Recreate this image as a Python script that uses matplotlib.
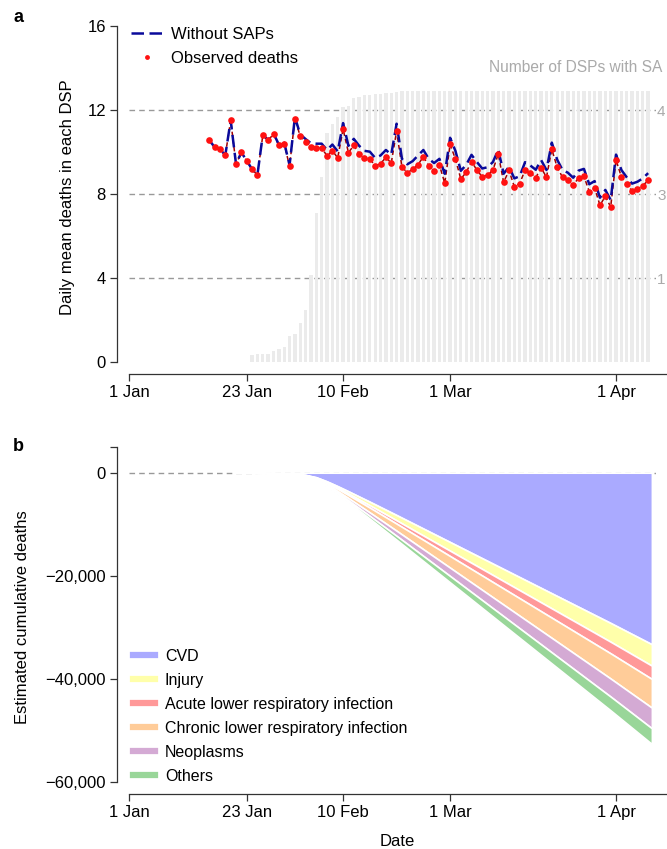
import matplotlib.pyplot as plt
import numpy as np
from matplotlib.lines import Line2D

plt.rcParams['font.family'] = ['Liberation Sans', 'DejaVu Sans']

# days counted from 1 Jan 2020 (day 0)
tick_days = [0, 22, 40, 60, 91]
tick_labels = ['1 Jan', '23 Jan', '10 Feb', '1 Mar', '1 Apr']

# panel a : daily mean deaths per DSP
days = list(range(15, 98))
observed = [10.56, 10.24, 10.13, 9.86, 11.51, 9.42, 9.99, 9.58, 9.18, 8.91,
            10.80, 10.56, 10.86, 10.32, 10.40, 9.32, 11.59, 10.75, 10.50, 10.26,
            10.21, 10.18, 9.83, 10.07, 9.72, 11.10, 9.97, 10.32, 9.91, 9.73,
            9.67, 9.35, 9.45, 9.75, 9.48, 11.00, 9.29, 9.02, 9.18, 9.40,
            9.78, 9.35, 9.10, 9.39, 8.52, 10.37, 9.66, 8.72, 9.04, 9.54,
            9.15, 8.82, 8.91, 9.15, 9.91, 8.56, 9.13, 8.35, 8.50, 9.15,
            9.02, 8.78, 9.26, 8.80, 10.13, 9.28, 8.80, 8.67, 8.42, 8.78,
            8.85, 8.12, 8.29, 7.47, 7.90, 7.39, 9.62, 8.82, 8.47, 8.15,
            8.24, 8.40, 8.66]
without_saps = [10.56, 10.24, 10.13, 9.86, 11.51, 9.42, 9.99, 9.58, 9.19, 8.93,
                10.82, 10.58, 10.89, 10.36, 10.45, 9.38, 11.66, 10.84, 10.62, 10.42,
                10.40, 10.40, 10.10, 10.36, 10.03, 11.38, 10.30, 10.63, 10.30, 10.06,
                10.02, 9.72, 9.84, 10.10, 9.88, 11.35, 9.68, 9.42, 9.57, 9.84,
                10.10, 9.68, 9.48, 9.68, 8.97, 10.68, 10.05, 9.11, 9.39, 9.87,
                9.53, 9.22, 9.28, 9.53, 10.12, 8.97, 9.30, 8.75, 8.85, 9.52,
                9.36, 9.16, 9.62, 9.15, 10.45, 9.64, 9.15, 9.02, 8.78, 9.12,
                9.20, 8.47, 8.62, 7.83, 8.20, 7.72, 9.88, 9.15, 8.80, 8.50,
                8.59, 8.75, 9.00]

# number of DSPs with SAPs (right axis, cut by the figure edge)
bar_days = list(range(23, 98))
dsp_with_sa = [13, 15, 15, 15, 21, 24, 28, 47, 50, 70, 93, 156, 266, 331, 409,
               426, 438, 455, 458, 471, 474, 476, 477, 478, 479, 480, 481, 482] + [484] * 47
right_ticks = [150, 300, 450]
right_labels = ['1', '3', '4']

# panel b : estimated cumulative deaths by cause
dates_b = [20, 23, 26, 29, 31, 33, 35, 37, 39, 41, 45, 50, 60, 70, 80, 90, 97.7]
cvd = [0, 0, -65, -146, -254, -430, -886, -1685, -2618, -3604, -5633, -8216,
       -13442, -18674, -23902, -29131, -33256]
injury = [0, 0, -8, -18, -32, -54, -111, -210, -327, -450, -703, -1025,
          -1678, -2331, -2983, -3636, -4147]
acute_lri = [0, 0, -5, -11, -20, -33, -69, -130, -203, -279, -436, -636,
             -1041, -1446, -1850, -2255, -2578]
chronic_lri = [0, 0, -11, -24, -43, -72, -148, -282, -438, -603, -943, -1376,
               -2251, -3127, -4003, -4878, -5562]
neoplasms = [0, 0, -8, -17, -30, -52, -106, -202, -314, -433, -676, -986,
             -1614, -2242, -2870, -3498, -3992]
others = [0, 0, -6, -13, -23, -39, -81, -154, -240, -330, -516, -753,
          -1232, -1711, -2190, -2669, -3043]
causes = ['CVD', 'Injury', 'Acute lower respiratory infection',
          'Chronic lower respiratory infection', 'Neoplasms', 'Others']
cause_colors = ['#aaaaff', '#ffffaa', '#ff9999', '#ffcc99', '#d4aad4', '#99d699']

W, H = 667, 849
fig = plt.figure(figsize=(W / 100, H / 100), dpi=100)

def px_axes(l, t, r, b):
    return fig.add_axes([l / W, 1 - b / H, (r - l) / W, (b - t) / H])

PXDAY = 5.352
X0 = 129
xlim = ((117 - X0) / PXDAY, (656 - X0) / PXDAY)
spine_col = '#333333'

def style(ax):
    for s in ['top', 'right']:
        ax.spines[s].set_visible(False)
    for s in ['left', 'bottom']:
        ax.spines[s].set_color(spine_col)
        ax.spines[s].set_linewidth(0.9)
    ax.spines['bottom'].set_bounds(0, 110)
    ax.set_xlim(*xlim)
    ax.set_xticks(tick_days)
    ax.set_xticklabels(tick_labels)
    ax.tick_params(direction='out', length=5, width=0.9, color=spine_col,
                   labelsize=12, pad=3)

# ---- panel a
axa = px_axes(117, 20, 656, 374)
ya = (-(374 - 362.3) / 21.02, (362.3 - 20) / 21.02)
style(axa)
axa.set_ylim(*ya)
axa.spines['left'].set_bounds(0, 16)
axa.set_yticks([0, 4, 8, 12, 16])
axa.set_ylabel('Daily mean deaths in each DSP', fontsize=12, labelpad=9)

ax2 = axa.twinx()
ax2.set_ylim(ya[0] * 37.5, ya[1] * 37.5)
ax2.hlines(right_ticks, 0, xlim[1], colors='#999999',
           linestyles=(0, (4, 3)), lw=1, zorder=1)
ax2.bar(bar_days, dsp_with_sa, width=0.62, color='#ebebeb', zorder=2)
for s in ax2.spines.values():
    s.set_visible(False)
ax2.set_yticks(right_ticks)
ax2.set_yticklabels(right_labels)
ax2.tick_params(axis='y', length=0, pad=0.8, labelcolor='#aaaaaa', labelsize=11)
ax2.set_zorder(0)
axa.set_zorder(1)
axa.patch.set_visible(False)

axa.plot(days, observed, color='#a00000', lw=1.1, dashes=(3, 2), zorder=3)
axa.plot(days, without_saps, color='#0a0a9a', lw=1.8, dashes=(5, 2.2), zorder=4)
axa.plot(days, observed, 'o', color='#ff1111', ms=4.8, mec='none', zorder=5)

h_a = [Line2D([], [], color='#0a0a9a', lw=1.8, dashes=(5, 2.2)),
       Line2D([], [], color='#ff1111', marker='o', ms=3.5, mec='none', lw=0)]
axa.legend(h_a, ['Without SAPs', 'Observed deaths'], loc='upper left',
           bbox_to_anchor=(131 / W, 1 - 27 / H), bbox_transform=fig.transFigure,
           frameon=False, fontsize=12, handlelength=1.9, handletextpad=0.5,
           labelspacing=0.52, borderpad=0, borderaxespad=0)

fig.text(489 / W, 1 - 67.5 / H, 'Number of DSPs with SA', fontsize=11.2,
         color='#aaaaaa', ha='left', va='center')

# ---- panel b
axb = px_axes(117, 440, 656, 794)
yb = (-60000 - (794 - 782.3) / 103.2 * 20000, (472.7 - 440) / 103.2 * 20000)
style(axb)
axb.set_ylim(*yb)
axb.spines['left'].set_bounds(-60000, 5000)
axb.set_yticks([-60000, -40000, -20000, 0, 5000])
axb.set_yticklabels(['\u221260,000', '\u221240,000', '\u221220,000', '0', ''])
axb.set_ylabel('Estimated cumulative deaths', fontsize=12, labelpad=11)
axb.set_xlabel('Date', fontsize=12)
axb.xaxis.set_label_coords((397 - 117) / (656 - 117), -0.112)

axb.hlines(0, 0, xlim[1], colors='#999999', linestyles=(0, (4, 3)), lw=1, zorder=0.5)
axb.stackplot(dates_b, cvd, injury, acute_lri, chronic_lri, neoplasms, others,
              colors=cause_colors, edgecolor='white', lw=1.2, zorder=1)

h_b = [Line2D([], [], color=c, lw=4.5) for c in cause_colors]
axb.legend(h_b, causes, loc='upper left',
           bbox_to_anchor=(133 / W, 1 - 649 / H), bbox_transform=fig.transFigure,
           frameon=False, fontsize=11.5, handlelength=1.4, handletextpad=0.6,
           labelspacing=0.56, borderpad=0, borderaxespad=0)

fig.text(14 / W, 1 - 17 / H, 'a', fontsize=13, fontweight='bold', va='center')
fig.text(13 / W, 1 - 447 / H, 'b', fontsize=13, fontweight='bold', va='center')

fig.savefig('out.png', dpi=100)
